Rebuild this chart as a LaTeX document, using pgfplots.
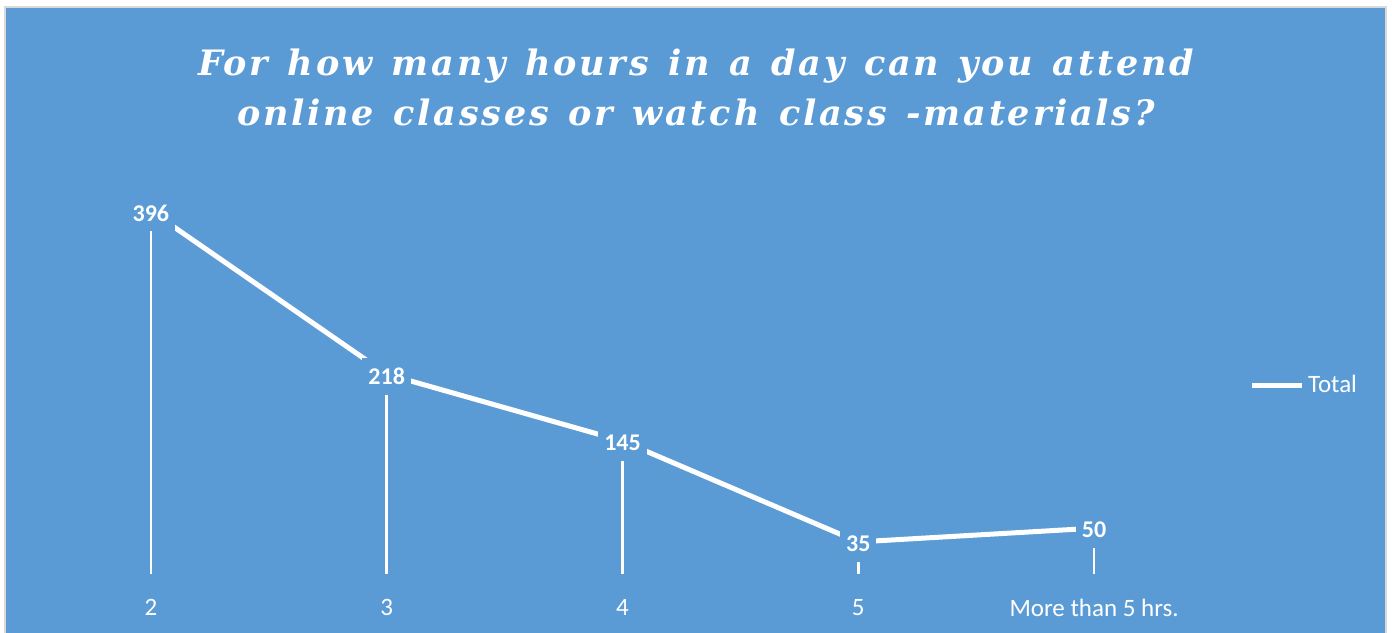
\documentclass[border=0pt]{standalone}
\usepackage{fontspec}
\setmainfont{Carlito}
\newfontfamily\titlefont[LetterSpace=8,WordSpace=1.3]{DejaVu Serif}
\usepackage{pgfplots}
\pgfplotsset{compat=1.18}
\definecolor{bgblue}{HTML}{5B9BD5}
\definecolor{bord}{HTML}{D9D9D9}
\pgfplotstableread{
x y
0 396
1 218
2 145
3 35
4 50
}\datatable
\begin{document}
\begin{tikzpicture}
\useasboundingbox (0,0) rectangle (696pt,-316pt);
\fill[white] (0,0) rectangle (696pt,-316pt);
\filldraw[fill=bgblue, draw=bord, line width=1pt] (2.5pt,-3.5pt) rectangle (693pt,-320pt);
\node[align=center, text=white, font=\titlefont\bfseries\itshape\fontsize{17.5}{25}\selectfont] at (348pt,-43.5pt) {For how many hours in a day can you attend\\online classes or watch class -materials?};
\begin{axis}[
  at={(16.5pt,-287pt)}, anchor=south west, scale only axis,
  width=589.5pt, height=192.5pt,
  xmin=-0.5, xmax=4.5, ymin=0, ymax=420, clip=false,
  axis line style={draw=none}, ytick=\empty,
  xtick={0,...,4}, xticklabels={2,3,4,5,More than 5 hrs.},
  major tick length=0pt,
  /pgf/number format/assume math mode=true,
  xticklabel style={text=white, font=\fontsize{12.5}{14}\selectfont, yshift=-9pt},
  legend style={at={(1.026,0.49)}, anchor=west, draw=none, fill=none, text=white, font=\fontsize{12.5}{14}\selectfont},
  legend cell align=left,
  legend image code/.code={\draw[#1] (0pt,0pt) -- (25pt,0pt);},
]
\addplot[ycomb, white, line width=1.25pt, forget plot] table[x=x,y=y] {\datatable};
\addplot[white, line width=2.5pt, line join=round, nodes near coords,
  nodes near coords style={anchor=center, fill=bgblue, text=white, font=\bfseries\fontsize{12}{14}\selectfont, inner xsep=3pt, inner ysep=5pt, yshift=-1pt}] table[x=x,y=y] {\datatable};
\legend{Total}
\end{axis}
\end{tikzpicture}
\end{document}
